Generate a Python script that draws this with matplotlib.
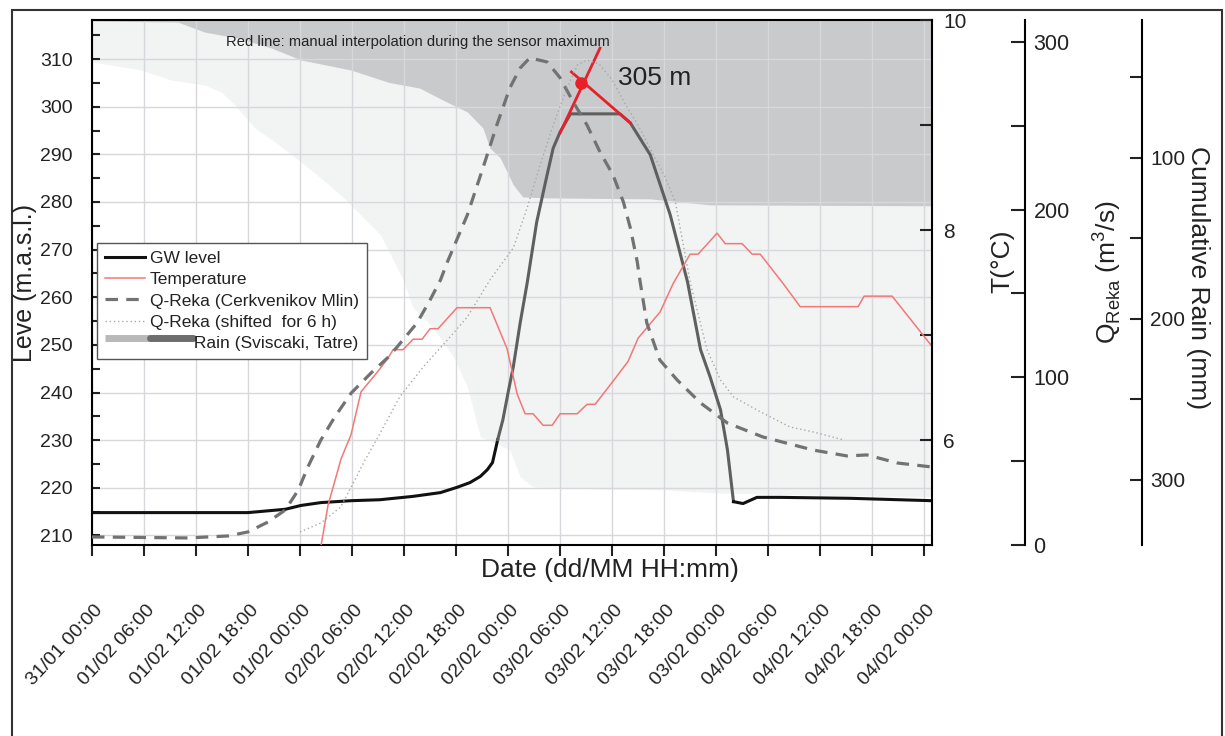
import numpy as np
import matplotlib
matplotlib.use("Agg")
import matplotlib.pyplot as plt
import matplotlib.transforms as mtransforms
from matplotlib.lines import Line2D
from matplotlib.legend_handler import HandlerBase
from matplotlib.patches import Rectangle
from matplotlib.ticker import MultipleLocator, FixedLocator

plt.rcParams['font.family'] = ['Liberation Sans', 'DejaVu Sans']
plt.rcParams['text.color'] = '#222222'
plt.rcParams['axes.labelcolor'] = '#222222'
plt.rcParams['xtick.color'] = '#222222'
plt.rcParams['ytick.color'] = '#222222'

# x axis in hours from 31/01 00:00
tick_hours = np.arange(0, 97, 6)
tick_labels = ["31/01 00:00", "01/02 06:00", "01/02 12:00", "01/02 18:00",
               "01/02 00:00", "02/02 06:00", "02/02 12:00", "02/02 18:00",
               "02/02 00:00", "03/02 06:00", "03/02 12:00", "03/02 18:00",
               "03/02 00:00", "04/02 06:00", "04/02 12:00", "04/02 18:00",
               "04/02 00:00"]

# cumulative rain (mm), two stations
rain1_hours = [0.0, 5.65, 9.1, 13.0, 14.9, 16.5, 18.8, 21.1, 24.1, 26.4, 28.7, 31.0,
               33.3, 35.9, 37.0, 39.3, 41.7, 43.3, 44.8, 48.2, 49.4, 50.9, 58.6,
               65.9, 71.7, 81.7, 96.9]
rain1_mm = [40.4, 45.3, 51.5, 54.7, 59.0, 67.1, 81.4, 90.0, 102.4, 112.4, 122.9, 135.4,
            147.9, 175.7, 192.6, 205.0, 223.6, 242.2, 273.2, 281.3, 298.1, 304.3, 305.6,
            306.1, 308.0, 309.3, 310.5]
rain2_hours = [0.0, 9.9, 13.0, 16.8, 20.7, 24.1, 29.9, 34.2, 37.8, 40.9, 43.3, 45.1,
               45.9, 47.1, 48.6, 49.7, 52.5, 64.4, 71.3, 96.9]
rain2_mm = [14.9, 15.6, 21.8, 25.5, 31.7, 39.1, 45.4, 53.0, 56.6, 65.2, 71.4, 81.4,
            93.8, 100.0, 116.7, 124.2, 124.8, 125.4, 129.1, 129.7]

# groundwater level (m a.s.l.)
gw_hours = [0.0, 18.0, 22.3, 24.1, 26.4, 29.9, 33.2, 37.0, 40.2, 42.1, 43.6, 44.8,
            45.6, 46.2, 46.8, 47.4, 48.0, 48.6, 49.4, 50.2, 51.3, 52.5, 53.2, 54.0,
            55.2, 60.9, 62.1, 64.4, 66.7, 68.7, 70.2, 71.3, 72.5, 73.3, 74.0, 75.1,
            76.7, 79.4, 87.5, 96.9]
gw_level = [214.8, 214.8, 215.5, 216.3, 216.9, 217.3, 217.5, 218.2, 219.0, 220.1, 221.1,
            222.4, 223.8, 225.3, 230.1, 234.3, 240.0, 245.4, 254.7, 263.0, 275.8, 285.7,
            291.3, 294.7, 298.5, 298.5, 296.6, 289.9, 277.3, 263.2, 249.0, 243.3, 236.4,
            228.0, 217.1, 216.7, 218.0, 218.0, 217.8, 217.3]
sensor_start, sensor_end = 46.8, 74.0

# manual interpolation (red lines)
interp1_hours = [54.0, 58.6]
interp1_level = [294.5, 312.3]
interp2_hours = [55.3, 62.1]
interp2_level = [307.3, 296.6]
peak_hour, peak_level = 56.4, 305.0

# temperature (deg C)
temp_hours = [26.08, 27.23, 28.73, 29.88, 31.04, 32.65, 33.23, 34.15, 34.73, 35.88,
              37.04, 38.08, 39.0, 39.92, 42.11, 45.92, 47.88, 49.04, 49.96, 50.88,
              52.04, 53.08, 54.0, 55.96, 57.11, 58.04, 60.11, 61.85, 63.0, 65.54,
              67.04, 69.0, 69.92, 72.11, 73.04, 75.0, 76.15, 77.08, 79.73, 81.69,
              88.38, 89.07, 92.3, 96.92]
temp_c = [4.83, 5.38, 5.82, 6.05, 6.46, 6.62, 6.68, 6.78, 6.86, 6.86, 6.96, 6.96, 7.06,
          7.06, 7.26, 7.26, 6.87, 6.44, 6.25, 6.25, 6.14, 6.14, 6.25, 6.25, 6.34, 6.34,
          6.56, 6.75, 6.97, 7.22, 7.49, 7.77, 7.77, 7.97, 7.87, 7.87, 7.77, 7.77, 7.49,
          7.27, 7.27, 7.37, 7.37, 6.89]

# discharge Q-Reka (m3/s)
q_hours = [0.0, 11.1, 15.7, 18.0, 20.3, 22.3, 23.8, 24.9, 26.4, 28.0, 29.9, 32.2, 34.2,
           35.2, 37.5, 39.0, 40.2, 41.0, 43.3, 45.1, 46.7, 48.2, 49.4, 50.5, 52.5, 54.0,
           55.5, 57.1, 58.6, 60.1, 61.3, 62.1, 62.9, 63.2, 64.0, 65.5, 67.5, 70.2, 73.3,
           77.4, 83.2, 87.1, 89.4, 92.9, 96.9]
q_flow = [4.8, 4.2, 5.4, 7.8, 13.7, 20.9, 32.8, 46.5, 62.6, 76.3, 90.6, 102.6, 112.1,
          118.1, 132.4, 146.1, 158.0, 168.8, 196.8, 224.8, 250.4, 272.5, 284.4, 290.4,
          288.0, 278.5, 264.2, 250.4, 234.3, 220.6, 204.5, 189.0, 168.8, 158.0, 132.4,
          110.3, 98.4, 84.7, 72.7, 64.4, 56.6, 53.1, 53.7, 48.9, 46.5]
qs_hours = [24.0, 26.4, 28.7, 29.9, 31.5, 33.0, 35.5, 38.2, 41.0, 43.3, 45.9, 48.6, 50.2,
            51.7, 53.2, 54.8, 56.0, 57.1, 58.5, 60.0, 61.5, 63.1, 64.6, 66.1, 67.3, 69.0,
            70.96, 72.5, 74.0, 76.7, 80.5, 83.2, 86.7]
qs_flow = [7.8, 13.1, 22.7, 34.6, 50.7, 64.4, 88.3, 106.1, 122.2, 136.0, 158.0, 177.1,
           201.0, 226.6, 250.4, 272.5, 286.2, 289.2, 286.8, 277.3, 263.0, 249.3, 234.3,
           219.4, 204.5, 156.8, 116.3, 98.4, 88.3, 80.5, 70.4, 67.4, 62.6]

rain_light = '#f2f3f3'
rain_dark = '#c9cacc'

fig = plt.figure(figsize=(12.25, 7.36), dpi=100)
rect = [92 / 1225, 1 - 545 / 736, 840 / 1225, 525 / 736]
xmax = 96.9

# rain axis (bottom layer, inverted)
ax_r = fig.add_axes(rect, zorder=1)
ax_r.fill_between(rain1_hours, 0, rain1_mm, color=rain_light, lw=0)
ax_r.fill_between(rain2_hours, 0, rain2_mm, color=rain_dark, lw=0)
ax_r.set_xlim(0, xmax)
ax_r.set_ylim(340.4, 14.3)
for s in ['left', 'top', 'bottom']:
    ax_r.spines[s].set_visible(False)
ax_r.spines['right'].set_position(('outward', 151))
ax_r.spines['right'].set_linewidth(1.5)
ax_r.set_xticks([])
ax_r.yaxis.tick_right()
ax_r.yaxis.set_major_locator(FixedLocator([100, 200, 300]))
ax_r.yaxis.set_minor_locator(FixedLocator([50, 150, 250]))
ax_r.tick_params(axis='y', which='both', direction='in', length=9, width=1.5, labelsize=15, pad=6)
ax_r.set_ylabel('Cumulative Rain (mm)', fontsize=19, rotation=270, va='center')
ax_r.yaxis.set_label_position('right')
ax_r.yaxis.set_label_coords(1.331, 0.51)

# groundwater level axis
ax = fig.add_axes(rect, zorder=2)
ax.patch.set_visible(False)
ax.grid(True, which='major', color='#d7d7dc', lw=1)
gw_h = np.array(gw_hours)
gw_l = np.array(gw_level)
i0 = np.searchsorted(gw_h, sensor_start)
i1 = np.searchsorted(gw_h, sensor_end)
ax.plot(gw_h[:i0 + 1], gw_l[:i0 + 1], color='#111111', lw=2.2, label='GW level')
ax.plot(gw_h[i0:i1 + 1], gw_l[i0:i1 + 1], color='#5f5f5f', lw=2.2)
ax.plot(gw_h[i1:], gw_l[i1:], color='#111111', lw=2.2)
ax.plot(interp1_hours, interp1_level, color='#e8202a', lw=2, zorder=5)
ax.plot(interp2_hours, interp2_level, color='#e8202a', lw=2, zorder=5)
ax.plot([peak_hour], [peak_level], 'o', color='#e8202a', ms=8, zorder=6)
ax.text(15.5, 313.6, 'Red line: manual interpolation during the sensor maximum',
        fontsize=10.6, va='center', ha='left')
ax.text(60.7, 306.0, '305 m', fontsize=19, va='center', ha='left')
ax.set_xlim(0, xmax)
ax.set_ylim(208, 318.2)
ax.yaxis.set_major_locator(MultipleLocator(10))
ax.yaxis.set_minor_locator(MultipleLocator(5))
ax.set_yticks(np.arange(210, 311, 10))
ax.tick_params(axis='y', which='both', direction='in', left=True, right=False,
               length=6, width=1.5, labelsize=14, pad=14)
ax.set_xticks(tick_hours)
ax.set_xticklabels(tick_labels, rotation=47, ha='right', va='top')
ax.tick_params(axis='x', direction='out', length=8, width=1.5, labelsize=14, pad=33)
offset = mtransforms.ScaledTranslation(0.14, 0, fig.dpi_scale_trans)
for lab in ax.get_xticklabels():
    lab.set_transform(lab.get_transform() + offset)
for s in ['left', 'top', 'bottom']:
    ax.spines[s].set_linewidth(1.5)
ax.spines['right'].set_visible(False)
ax.set_ylabel('Leve (m.a.s.l.)', fontsize=18)
ax.yaxis.set_label_coords(-0.066, 0.5)
ax.set_xlabel('Date (dd/MM HH:mm)', fontsize=19)
ax.xaxis.set_label_coords(0.617, -0.025)

# temperature axis
ax_t = fig.add_axes(rect, zorder=3)
ax_t.patch.set_visible(False)
ax_t.plot(temp_hours, temp_c, color='#f27878', lw=1.1, label='Temperature')
ax_t.set_xlim(0, xmax)
ax_t.set_ylim(5, 10)
for s in ['left', 'top', 'bottom']:
    ax_t.spines[s].set_visible(False)
ax_t.spines['right'].set_linewidth(1.5)
ax_t.set_xticks([])
ax_t.yaxis.tick_right()
ax_t.yaxis.set_major_locator(FixedLocator([6, 8, 10]))
ax_t.yaxis.set_minor_locator(FixedLocator([7, 9]))
ax_t.tick_params(axis='y', which='both', direction='in', length=9, width=1.5, labelsize=15, pad=8)
ax_t.set_ylabel('T(°C)', fontsize=19)
ax_t.yaxis.set_label_position('right')
ax_t.yaxis.set_label_coords(1.070, 0.54)

# discharge axis
ax_q = fig.add_axes(rect, zorder=4)
ax_q.patch.set_visible(False)
ax_q.plot(q_hours, q_flow, color='#727272', lw=2.3, linestyle=(0, (3.9, 2.6)),
          label='Q-Reka (Cerkvenikov Mlin)')
ax_q.plot(qs_hours, qs_flow, color='#a8a8a8', lw=1, linestyle=(0, (1, 2)),
          label='Q-Reka (shifted  for 6 h)')
ax_q.set_xlim(0, xmax)
ax_q.set_ylim(0, 313)
for s in ['left', 'top', 'bottom']:
    ax_q.spines[s].set_visible(False)
ax_q.spines['right'].set_position(('outward', 67))
ax_q.spines['right'].set_linewidth(1.5)
ax_q.set_xticks([])
ax_q.yaxis.tick_right()
ax_q.yaxis.set_major_locator(FixedLocator([0, 100, 200, 300]))
ax_q.yaxis.set_minor_locator(FixedLocator([50, 150, 250]))
ax_q.tick_params(axis='y', which='both', direction='in', length=10, width=1.5, labelsize=15.5, pad=6)
ax_q.set_ylabel(r'Q$_\mathregular{Reka}$ (m$^\mathregular{3}$/s)', fontsize=19)
ax_q.yaxis.set_label_position('right')
ax_q.yaxis.set_label_coords(1.188, 0.52)


class RainHandler(HandlerBase):
    def create_artists(self, legend, orig_handle, xdescent, ydescent, width, height,
                       fontsize, trans):
        y = (height - ydescent) / 2 + 3
        a = Line2D([-xdescent, width + 4 - xdescent], [y, y], color='#b9b9b9', lw=5,
                   solid_capstyle='butt', transform=trans)
        b = Line2D([width + 4 - xdescent, 2 * width + 6 - xdescent], [y, y],
                   color='#6d6d6d', lw=5, solid_capstyle='round', transform=trans)
        return [a, b]


rain_handle = Rectangle((0, 0), 1, 1)
handles = [ax.get_lines()[0], ax_t.get_lines()[0], ax_q.get_lines()[0],
           ax_q.get_lines()[1], rain_handle]
labels = ['GW level', 'Temperature', 'Q-Reka (Cerkvenikov Mlin)',
          'Q-Reka (shifted  for 6 h)', '         Rain (Sviscaki, Tatre)']
leg = ax_q.legend(handles, labels, loc='upper left', bbox_to_anchor=(0.006, 0.575),
                  borderaxespad=0, fontsize=12.5, handlelength=2.3, labelspacing=0.35,
                  borderpad=0.45, handletextpad=0.3, fancybox=False, framealpha=1,
                  edgecolor='#555555', handler_map={Rectangle: RainHandler()})
leg.get_frame().set_linewidth(1)

# outer frame of the figure
fig.add_artist(Rectangle((12 / 1225, -0.05), 1210 / 1225, 1.05 - 10 / 736,
                         transform=fig.transFigure, fill=False, ec='#333333', lw=1.5))

fig.savefig('out.png', dpi=100)
